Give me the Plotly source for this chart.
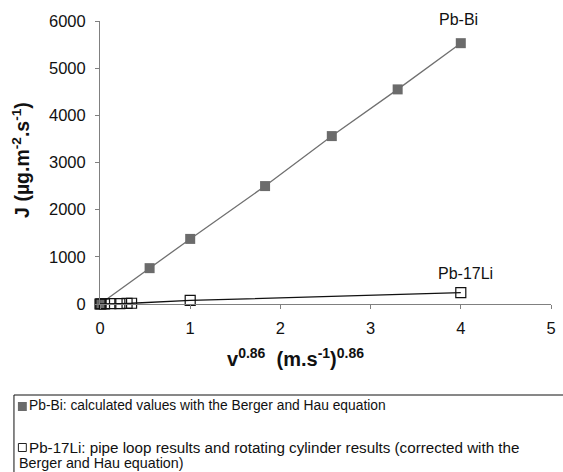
import plotly.graph_objects as go

pbbi_x = [0.0, 0.55, 1.0, 1.83, 2.57, 3.30, 4.0]
pbbi_y = [0, 760, 1380, 2500, 3560, 4550, 5530]

pbli_x = [0.0, 0.01, 0.05, 0.12, 0.22, 0.30, 0.35, 1.0, 4.0]
pbli_y = [0, 1, 3, 6, 10, 14, 16, 75, 240]

x_ticks = [0, 1, 2, 3, 4, 5]
y_ticks = [0, 1000, 2000, 3000, 4000, 5000, 6000]

legend_pbbi = "Pb-Bi: calculated values with the Berger and Hau equation"
legend_pbli_1 = "Pb-17Li: pipe loop results and rotating cylinder results (corrected with the"
legend_pbli_2 = "Berger and Hau equation)"

FONT = "Liberation Sans, Arial, sans-serif"
W, H = 563, 472
L, R, T, B = 100, 7, 21, 168
PW, PH = W - L - R, H - T - B

def px(x):
    return (x - L) / PW

def py(y):
    return (H - B - y) / PH

fig = go.Figure()
fig.add_trace(go.Scatter(
    x=pbbi_x, y=pbbi_y, mode="lines+markers",
    line=dict(color="#707070", width=1.3),
    marker=dict(symbol="square", size=10, color="#6b6b6b", line=dict(width=0)),
    cliponaxis=False, showlegend=False))
fig.add_trace(go.Scatter(
    x=pbli_x, y=pbli_y, mode="lines+markers",
    line=dict(color="#111111", width=1.3),
    marker=dict(symbol="square-open", size=10, color="#111111", line=dict(width=1.2)),
    cliponaxis=False, showlegend=False))

fig.add_annotation(x=pbbi_x[-1], y=pbbi_y[-1], text="Pb-Bi", showarrow=False,
                   yshift=24, xshift=-2, font=dict(family=FONT, size=16, color="#111"))
fig.add_annotation(x=pbli_x[-1], y=pbli_y[-1], text="Pb-17Li", showarrow=False,
                   yshift=19, xshift=5, font=dict(family=FONT, size=16, color="#111"))

# axis titles
fig.add_annotation(xref="paper", yref="paper", x=px(298), y=py(357),
                   xanchor="center", yanchor="middle",
                   text="<b>v<sup>0.86</sup>  (m.s<sup>-1</sup>)<sup>0.86</sup></b>",
                   showarrow=False, font=dict(family=FONT, size=20, color="#111"))
fig.add_annotation(xref="paper", yref="paper", x=px(20), y=py(160), textangle=-90,
                   xanchor="center", yanchor="middle",
                   text="<b>J (µg.m<sup>-2</sup>.s<sup>-1</sup>)</b>",
                   showarrow=False, font=dict(family=FONT, size=19.5, color="#111"))

# legend box
fig.add_shape(type="rect", xref="paper", yref="paper",
              x0=px(13), x1=px(575), y0=py(395), y1=py(480),
              line=dict(color="#111", width=1), fillcolor="rgba(0,0,0,0)")
fig.add_shape(type="rect", xref="paper", yref="paper",
              x0=px(17), x1=px(26), y0=py(402), y1=py(411),
              line=dict(color="#6b6b6b", width=0), fillcolor="#6b6b6b")
fig.add_shape(type="rect", xref="paper", yref="paper",
              x0=px(17.5), x1=px(25.5), y0=py(443.5), y1=py(451.5),
              line=dict(color="#222", width=1), fillcolor="white")
fig.add_annotation(xref="paper", yref="paper", x=px(29), y=py(406), xshift=-3,
                   xanchor="left", yanchor="middle", text=legend_pbbi,
                   showarrow=False, align="left", font=dict(family=FONT, size=13.8, color="#111"))
fig.add_annotation(xref="paper", yref="paper", x=px(29), y=py(447), xshift=-3,
                   xanchor="left", yanchor="middle", text=legend_pbli_1,
                   showarrow=False, align="left", font=dict(family=FONT, size=15.2, color="#111"))
fig.add_annotation(xref="paper", yref="paper", x=px(19), y=py(463), xshift=-3,
                   xanchor="left", yanchor="middle", text=legend_pbli_2,
                   showarrow=False, align="left", font=dict(family=FONT, size=14.3, color="#111"))

axis_common = dict(showgrid=False, zeroline=False, showline=True, linecolor="#808080",
                   linewidth=1, ticks="outside", ticklen=4, tickcolor="#808080")
fig.update_xaxes(range=[0, 5], tickvals=x_ticks, ticktext=[str(v) for v in x_ticks],
                 ticklabelstandoff=5, tickfont=dict(family=FONT, size=16.5, color="#111"),
                 **axis_common)
fig.update_yaxes(range=[0, 6000], tickvals=y_ticks, ticktext=[str(v) for v in y_ticks],
                 ticklabelstandoff=6, tickfont=dict(family=FONT, size=16.5, color="#111"),
                 **axis_common)

fig.update_layout(width=W, height=H, margin=dict(l=L, r=R, t=T, b=B),
                  plot_bgcolor="white", paper_bgcolor="white", showlegend=False)
fig.write_html("out.html")
